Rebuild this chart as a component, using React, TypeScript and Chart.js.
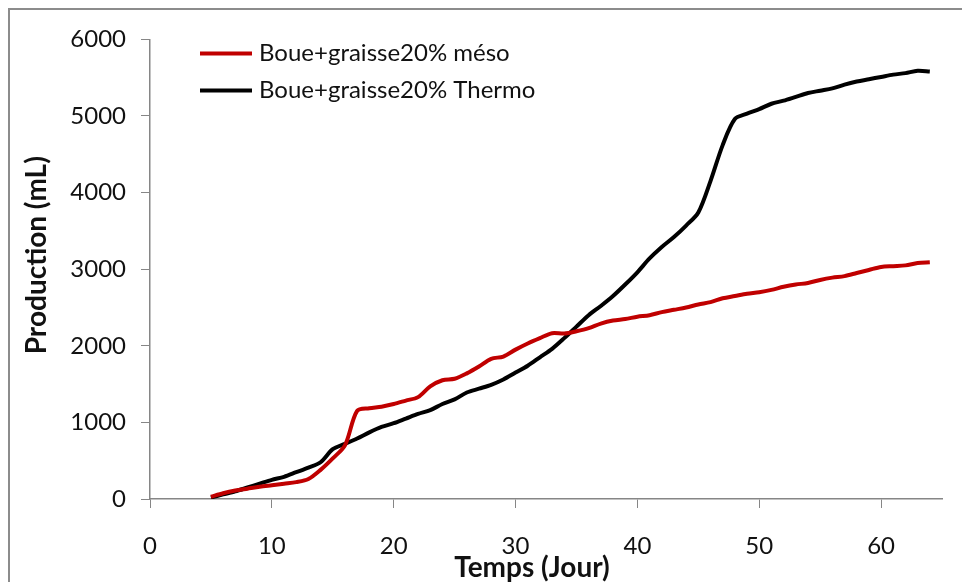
import React, { useEffect, useRef } from 'react';
import { Chart, registerables } from 'chart.js';

Chart.register(...registerables);

// Cumulative gas production, one reading per day
const days = [
  5, 6, 7, 8, 9, 10, 11, 12, 13, 14, 15, 16, 17, 18, 19, 20, 21, 22, 23, 24,
  25, 26, 27, 28, 29, 30, 31, 32, 33, 34, 35, 36, 37, 38, 39, 40, 41, 42, 43, 44,
  45, 46, 47, 48, 49, 50, 51, 52, 53, 54, 55, 56, 57, 58, 59, 60, 61, 62, 63, 64,
];

const mesoValues = [
  30, 75, 110, 135, 160, 180, 200, 220, 260, 380, 530, 700, 1150, 1185, 1205, 1240, 1285, 1330, 1470, 1550,
  1570, 1640, 1730, 1830, 1860, 1950, 2030, 2100, 2165, 2160, 2190, 2230, 2290, 2330, 2350, 2380, 2400, 2440, 2470, 2500,
  2540, 2570, 2620, 2650, 2680, 2700, 2730, 2770, 2800, 2820, 2860, 2890, 2910, 2950, 2990, 3030, 3040, 3050, 3080, 3090,
];

const thermoValues = [
  20, 60, 100, 150, 200, 250, 290, 350, 410, 480, 650, 720, 790, 870, 940, 990, 1050, 1110, 1160, 1240,
  1300, 1390, 1440, 1490, 1560, 1650, 1740, 1850, 1960, 2100, 2250, 2400, 2520, 2650, 2800, 2960, 3140, 3290, 3420, 3570,
  3740, 4150, 4620, 4960, 5030, 5090, 5160, 5200, 5250, 5300, 5330, 5360, 5410, 5450, 5480, 5510, 5540, 5560, 5590, 5580,
];

const seriesLabels = ['Boue+graisse20% méso', 'Boue+graisse20% Thermo'];
const seriesColors = ['#C00000', '#000000'];
const xTicks = [0, 10, 20, 30, 40, 50, 60];
const yTicks = [0, 1000, 2000, 3000, 4000, 5000, 6000];
const xTitle = 'Temps (Jour)';
const yTitle = 'Production (mL)';

const FONT = 'Lato, "Open Sans", sans-serif';
const AXIS_GRAY = '#868686';
const TEXT = '#111111';

// Legend inside the plot area (top-left, stacked) and the two axis titles
const annotations = {
  id: 'annotations',
  afterDraw(chart: any) {
    const { ctx, chartArea } = chart;
    ctx.save();
    chart.data.datasets.forEach((ds: any, i: number) => {
      const y = chartArea.top + 14 + i * 37;
      const x0 = chartArea.left + 50;
      ctx.strokeStyle = ds.borderColor;
      ctx.lineWidth = 4;
      ctx.beginPath();
      ctx.moveTo(x0, y);
      ctx.lineTo(x0 + 52, y);
      ctx.stroke();
      ctx.fillStyle = TEXT;
      ctx.font = `24px ${FONT}`;
      ctx.textBaseline = 'middle';
      ctx.textAlign = 'left';
      ctx.fillText(ds.label, x0 + 59, y);
    });

    ctx.fillStyle = TEXT;
    ctx.font = `bold 28px ${FONT}`;
    ctx.textAlign = 'center';
    ctx.textBaseline = 'middle';
    ctx.fillText(xTitle, chartArea.left + chartArea.width / 2 - 14, chartArea.bottom + 69);

    ctx.translate(27, chartArea.top + chartArea.height / 2 - 14);
    ctx.rotate(-Math.PI / 2);
    ctx.fillText(yTitle, 0, 0);
    ctx.restore();
  },
};

export default function App() {
  const canvasRef = useRef<HTMLCanvasElement | null>(null);

  useEffect(() => {
    if (!canvasRef.current) return;
    const toPoints = (vals: number[]) => days.map((d, i) => ({ x: d, y: vals[i] }));
    const chart = new Chart(canvasRef.current, {
      type: 'line',
      data: {
        datasets: [
          {
            label: seriesLabels[0],
            data: toPoints(mesoValues),
            borderColor: seriesColors[0],
            backgroundColor: seriesColors[0],
            borderWidth: 4,
            pointRadius: 0,
            tension: 0.3,
          },
          {
            label: seriesLabels[1],
            data: toPoints(thermoValues),
            borderColor: seriesColors[1],
            backgroundColor: seriesColors[1],
            borderWidth: 4,
            pointRadius: 0,
            tension: 0.3,
          },
        ],
      },
      options: {
        animation: false,
        responsive: false,
        maintainAspectRatio: false,
        layout: { padding: { top: 28, right: 20, left: 0, bottom: 0 } },
        plugins: {
          legend: { display: false },
          tooltip: { enabled: false },
        },
        scales: {
          x: {
            type: 'linear',
            min: 0,
            max: 65,
            afterBuildTicks: (scale: any) => {
              scale.ticks = xTicks.map((v) => ({ value: v }));
            },
            afterFit: (scale: any) => {
              scale.height = 83;
            },
            grid: {
              drawOnChartArea: false,
              drawTicks: true,
              tickLength: 9,
              color: AXIS_GRAY,
            },
            border: { display: true, color: AXIS_GRAY, width: 1.5 },
            ticks: {
              color: TEXT,
              font: { family: FONT, size: 24 },
              padding: 24,
              maxRotation: 0,
              callback: (v: any) => String(v),
            },
          },
          y: {
            type: 'linear',
            min: 0,
            max: 6000,
            afterBuildTicks: (scale: any) => {
              scale.ticks = yTicks.map((v) => ({ value: v }));
            },
            afterFit: (scale: any) => {
              scale.width = 140;
            },
            grid: {
              drawOnChartArea: false,
              drawTicks: true,
              tickLength: 9,
              color: AXIS_GRAY,
            },
            border: { display: true, color: AXIS_GRAY, width: 1.5 },
            ticks: {
              color: TEXT,
              font: { family: FONT, size: 24 },
              padding: 15,
              callback: (v: any) => String(v),
            },
          },
        },
      },
      plugins: [annotations],
    });
    return () => chart.destroy();
  }, []);

  return (
    <div
      style={{
        position: 'absolute',
        left: 8,
        top: 8,
        width: 952,
        height: 572,
        borderLeft: '2px solid #8c8c8c',
        borderTop: '2px solid #8c8c8c',
        background: '#fff',
      }}
    >
      <canvas ref={canvasRef} width={952} height={572} style={{ display: 'block' }} />
    </div>
  );
}
